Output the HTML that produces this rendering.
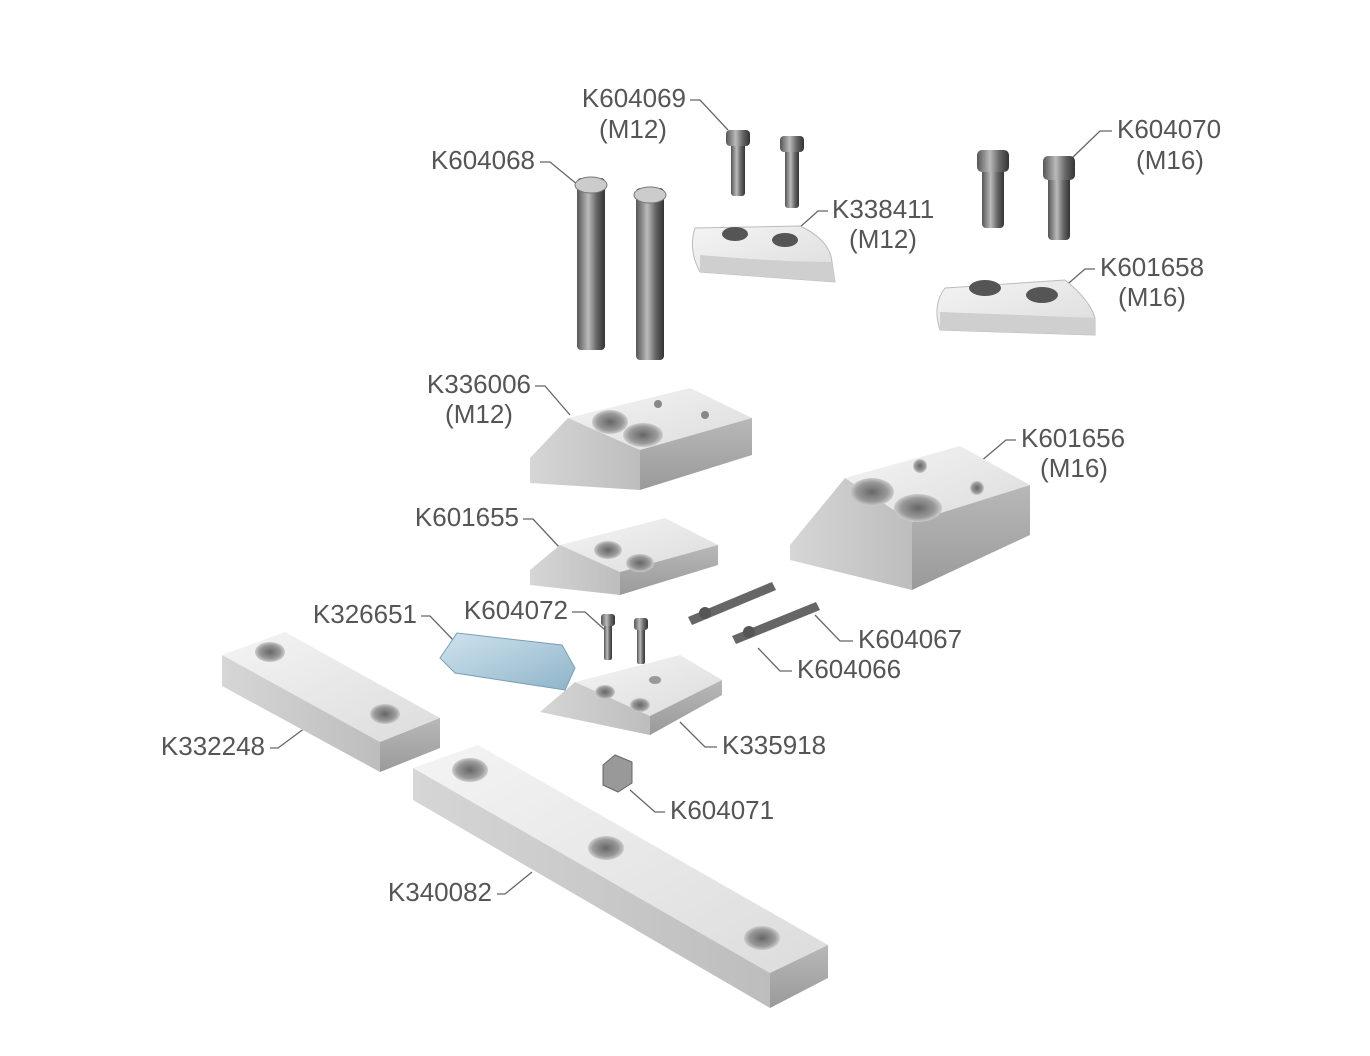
<!DOCTYPE html>
<html><head><meta charset="utf-8"><style>
html,body{margin:0;padding:0;background:#fff;width:1370px;height:1056px;overflow:hidden}
text{font-family:"Liberation Sans",sans-serif;font-size:26px;fill:#555;dominant-baseline:middle}
</style></head><body>
<svg width="1370" height="1056" viewBox="0 0 1370 1056" xmlns="http://www.w3.org/2000/svg">
<defs>
<linearGradient id="top" x1="0" y1="0" x2="1" y2="1"><stop offset="0" stop-color="#f4f4f4"/><stop offset="1" stop-color="#dcdcdc"/></linearGradient>
<linearGradient id="front" x1="0" y1="0" x2="1" y2="0"><stop offset="0" stop-color="#d6d6d6"/><stop offset="1" stop-color="#bdbdbd"/></linearGradient>
<linearGradient id="side" x1="0" y1="0" x2="0" y2="1"><stop offset="0" stop-color="#b8b8b8"/><stop offset="1" stop-color="#9a9a9a"/></linearGradient>
<linearGradient id="screw" x1="0" y1="0" x2="1" y2="0"><stop offset="0" stop-color="#555"/><stop offset=".4" stop-color="#bbb"/><stop offset=".7" stop-color="#666"/><stop offset="1" stop-color="#333"/></linearGradient>
<linearGradient id="blue" x1="0" y1="0" x2="1" y2="1"><stop offset="0" stop-color="#cfe3ee"/><stop offset="1" stop-color="#8fb4c9"/></linearGradient>
<radialGradient id="hole"><stop offset="0" stop-color="#666"/><stop offset=".7" stop-color="#999"/><stop offset="1" stop-color="#ccc"/></radialGradient>
</defs>
<rect width="1370" height="1056" fill="#fff"/>
<g stroke="#666" stroke-width="1.3" fill="none">
<path d="M690 100 H700 L728 130"/><path d="M540 162 H550 L578 185"/>
<path d="M1112 131 H1100 L1072 158"/><path d="M828 211 H818 L790 236"/>
<path d="M1095 269 H1085 L1055 295"/><path d="M535 386 H545 L570 415"/>
<path d="M1016 440 H1006 L980 462"/><path d="M523 519 H533 L560 548"/>
<path d="M421 616 H430 L455 642"/><path d="M572 612 H585 L605 630"/>
<path d="M853 641 H840 L815 615"/><path d="M792 671 H780 L758 648"/>
<path d="M270 748 H278 L305 728"/><path d="M717 747 H705 L680 722"/>
<path d="M665 812 H655 L630 790"/><path d="M497 894 H505 L532 872"/>
</g>
<polygon points="413,768 478,745 828,945 770,973" fill="url(#top)"/>
<polygon points="413,768 770,973 770,1008 413,800" fill="url(#front)"/>
<polygon points="770,973 828,945 828,978 770,1008" fill="url(#side)"/>
<ellipse cx="470" cy="770" rx="18" ry="12" fill="url(#hole)"/><ellipse cx="606" cy="848" rx="18" ry="12" fill="url(#hole)"/><ellipse cx="762" cy="938" rx="18" ry="12" fill="url(#hole)"/>
<polygon points="222,655 285,632 440,718 380,742" fill="url(#top)"/>
<polygon points="222,655 380,742 380,772 222,686" fill="url(#front)"/>
<polygon points="380,742 440,718 440,748 380,772" fill="url(#side)"/>
<ellipse cx="270" cy="652" rx="15" ry="10" fill="url(#hole)"/><ellipse cx="385" cy="714" rx="15" ry="10" fill="url(#hole)"/>
<polygon points="568,418 690,388 752,418 640,450" fill="url(#top)"/>
<polygon points="568,418 640,450 640,490 530,483 530,458" fill="url(#front)"/>
<polygon points="640,450 752,418 752,455 640,490" fill="url(#side)"/>
<ellipse cx="610" cy="422" rx="18" ry="12" fill="url(#hole)"/><ellipse cx="643" cy="435" rx="20" ry="12" fill="url(#hole)"/><circle cx="658" cy="404" r="4" fill="#888"/><circle cx="705" cy="415" r="4" fill="#888"/>
<polygon points="845,478 960,446 1030,485 912,522" fill="url(#top)"/>
<polygon points="845,478 912,522 912,590 790,560 790,545" fill="url(#front)"/>
<polygon points="912,522 1030,485 1030,535 912,590" fill="url(#side)"/>
<ellipse cx="872" cy="492" rx="22" ry="14" fill="url(#hole)"/><ellipse cx="918" cy="508" rx="24" ry="14" fill="url(#hole)"/><circle cx="920" cy="466" r="7" fill="url(#hole)"/><circle cx="977" cy="488" r="7" fill="url(#hole)"/>
<polygon points="560,545 665,518 718,545 620,572" fill="url(#top)"/>
<polygon points="560,545 620,572 620,595 530,585 530,570" fill="url(#front)"/>
<polygon points="620,572 718,545 718,565 620,595" fill="url(#side)"/>
<ellipse cx="608" cy="550" rx="14" ry="9" fill="url(#hole)"/><ellipse cx="640" cy="563" rx="14" ry="9" fill="url(#hole)"/>
<polygon points="575,682 680,655 722,680 650,716" fill="url(#top)"/>
<polygon points="575,682 650,716 650,735 540,712" fill="url(#front)"/>
<polygon points="650,716 722,680 722,695 650,735" fill="url(#side)"/>
<ellipse cx="605" cy="692" rx="10" ry="7" fill="url(#hole)"/><ellipse cx="640" cy="705" rx="10" ry="7" fill="url(#hole)"/><ellipse cx="655" cy="680" rx="6" ry="4" fill="#999"/>
<polygon points="440,658 457,633 562,645 575,668 565,690 455,673" fill="url(#blue)" stroke="#7a9fb5"/>
<polygon points="603,765 615,755 632,762 632,783 618,792 603,785" fill="#999" stroke="#666"/>
<rect x="577" y="178" width="28" height="172" rx="4" fill="url(#screw)"/><ellipse cx="591" cy="185" rx="16" ry="8" fill="#ccc" stroke="#777"/>
<rect x="636" y="188" width="28" height="172" rx="4" fill="url(#screw)"/><ellipse cx="650" cy="195" rx="16" ry="8" fill="#ccc" stroke="#777"/>
<rect x="731" y="140" width="14" height="56" rx="3" fill="url(#screw)"/><rect x="726" y="130" width="24" height="16" rx="4" fill="url(#screw)"/>
<rect x="785" y="146" width="14" height="62" rx="3" fill="url(#screw)"/><rect x="780" y="136" width="24" height="16" rx="4" fill="url(#screw)"/>
<rect x="982" y="168" width="22" height="60" rx="4" fill="url(#screw)"/><rect x="977" y="150" width="32" height="22" rx="5" fill="url(#screw)"/>
<rect x="1048" y="176" width="22" height="64" rx="4" fill="url(#screw)"/><rect x="1043" y="156" width="32" height="24" rx="5" fill="url(#screw)"/>
<rect x="604" y="624" width="8" height="36" rx="2" fill="url(#screw)"/><rect x="601" y="614" width="14" height="12" rx="3" fill="url(#screw)"/>
<rect x="637" y="628" width="8" height="36" rx="2" fill="url(#screw)"/><rect x="634" y="618" width="14" height="12" rx="3" fill="url(#screw)"/>
<polygon points="688,617 772,582 776,590 692,625" fill="#666"/><circle cx="705" cy="613" r="6" fill="#555"/>
<polygon points="732,636 816,602 820,610 736,644" fill="#666"/><circle cx="749" cy="632" r="6" fill="#555"/>
<path d="M695 228 L800 226 Q830 240 832 262 L835 282 L700 272 Q688 250 695 228Z" fill="url(#top)" stroke="#bbb"/>
<path d="M700 272 L835 282 L832 262 Q780 262 700 255Z" fill="#cfcfcf"/>
<ellipse cx="735" cy="234" rx="13" ry="7" fill="#555"/><ellipse cx="785" cy="240" rx="13" ry="7" fill="#555"/>
<path d="M945 288 L1065 280 Q1090 300 1095 318 L1095 335 L940 330 Q932 305 945 288Z" fill="url(#top)" stroke="#bbb"/>
<path d="M940 330 L1095 335 L1095 318 Q1020 315 940 312Z" fill="#cfcfcf"/>
<ellipse cx="985" cy="288" rx="16" ry="8" fill="#555"/><ellipse cx="1042" cy="295" rx="16" ry="8" fill="#555"/>
<text x="686" y="100" text-anchor="end">K604069</text><text x="633" y="131" text-anchor="middle">(M12)</text>
<text x="535" y="162" text-anchor="end">K604068</text>
<text x="1117" y="131">K604070</text><text x="1170" y="162" text-anchor="middle">(M16)</text>
<text x="832" y="211">K338411</text><text x="883" y="241" text-anchor="middle">(M12)</text>
<text x="1100" y="269">K601658</text><text x="1152" y="299" text-anchor="middle">(M16)</text>
<text x="531" y="386" text-anchor="end">K336006</text><text x="479" y="416" text-anchor="middle">(M12)</text>
<text x="1021" y="440">K601656</text><text x="1074" y="470" text-anchor="middle">(M16)</text>
<text x="519" y="519" text-anchor="end">K601655</text>
<text x="417" y="616" text-anchor="end">K326651</text>
<text x="568" y="612" text-anchor="end">K604072</text>
<text x="858" y="641">K604067</text>
<text x="797" y="671">K604066</text>
<text x="265" y="748" text-anchor="end">K332248</text>
<text x="722" y="747">K335918</text>
<text x="670" y="812">K604071</text>
<text x="492" y="894" text-anchor="end">K340082</text>
</svg>
</body></html>
